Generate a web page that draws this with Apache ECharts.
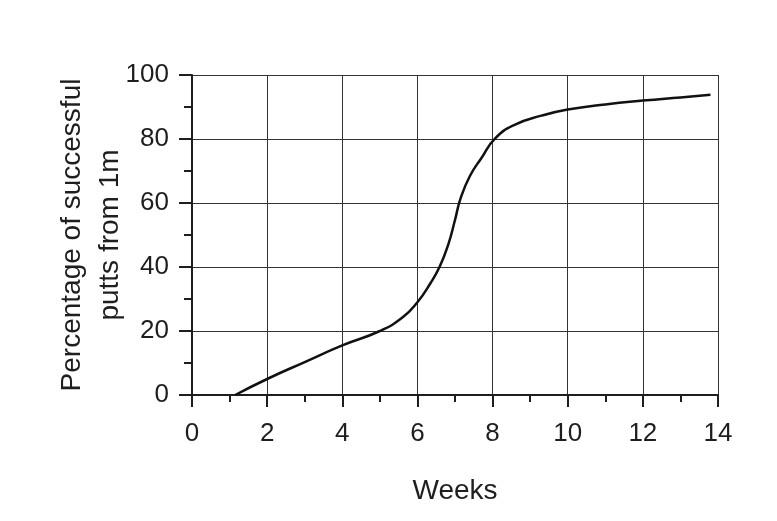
<!DOCTYPE html>
<html>
<head>
<meta charset="utf-8">
<script src="https://cdn.jsdelivr.net/npm/echarts@6/dist/echarts.min.js"></script>
<style>
  html, body { margin: 0; padding: 0; background: #fff; }
  #chart { width: 777px; height: 521px; }
</style>
</head>
<body>
<div id="chart"></div>
<script>
// 数据：周数和成功率
const weeks = [1.15, 2, 3, 4, 5, 5.6, 6, 6.35, 6.6, 6.82, 7.0, 7.15, 7.4, 7.7, 8.07, 8.6, 9.3, 10, 11, 12, 13, 13.8];
const percent = [0, 5, 10.3, 15.5, 20, 24.2, 29, 35, 40.3, 47, 54.7, 61.5, 68.5, 74, 80.2, 84.5, 87.3, 89.2, 90.8, 92, 93, 93.8];
const xTicks = [0, 2, 4, 6, 8, 10, 12, 14];
const yTicks = [0, 20, 40, 60, 80, 100];
const xName = 'Weeks';
const yName = 'Percentage of successful\nputts from 1m';

const font = 'Liberation Sans, Arial, sans-serif';
const ink = '#1e1e1e';

let points = [];
for (let i = 0; i < weeks.length; i++) {
    points.push([weeks[i], percent[i]]);
}

let myChart = echarts.init(document.getElementById('chart'));
let option = {
    animation: false,
    grid: { left: 192, right: 59, top: 75, bottom: 126, containLabel: false },
    xAxis: {
        type: 'value',
        min: xTicks[0],
        max: xTicks[xTicks.length - 1],
        interval: 2,
        name: xName,
        nameLocation: 'middle',
        nameGap: 82,
        nameMoveOverlap: false,
        nameTextStyle: { color: ink, fontSize: 28, fontFamily: font },
        axisLine: { lineStyle: { color: ink, width: 2 } },
        axisTick: { length: 12, lineStyle: { color: ink, width: 2 } },
        minorTick: { show: true, splitNumber: 2, length: 7, lineStyle: { color: ink, width: 2 } },
        axisLabel: { color: ink, fontSize: 26, fontFamily: font, margin: 26 },
        splitLine: { show: true, lineStyle: { color: '#333', width: 1 } }
    },
    yAxis: {
        type: 'value',
        min: yTicks[0],
        max: yTicks[yTicks.length - 1],
        interval: 20,
        name: yName,
        nameLocation: 'middle',
        nameGap: 63,
        nameMoveOverlap: false,
        nameTextStyle: { color: ink, fontSize: 28, fontFamily: font, lineHeight: 38, align: 'center' },
        axisLine: { lineStyle: { color: ink, width: 2 } },
        axisTick: { length: 13, lineStyle: { color: ink, width: 2 } },
        minorTick: { show: true, splitNumber: 2, length: 8, lineStyle: { color: ink, width: 2 } },
        axisLabel: { color: ink, fontSize: 26, fontFamily: font, margin: 23 },
        splitLine: { show: true, lineStyle: { color: '#333', width: 1 } }
    },
    series: [{
        type: 'line',
        data: points,
        smooth: 0.5,
        showSymbol: false,
        lineStyle: { color: '#111', width: 2.5 }
    }]
};
myChart.setOption(option);
</script>
</body>
</html>
